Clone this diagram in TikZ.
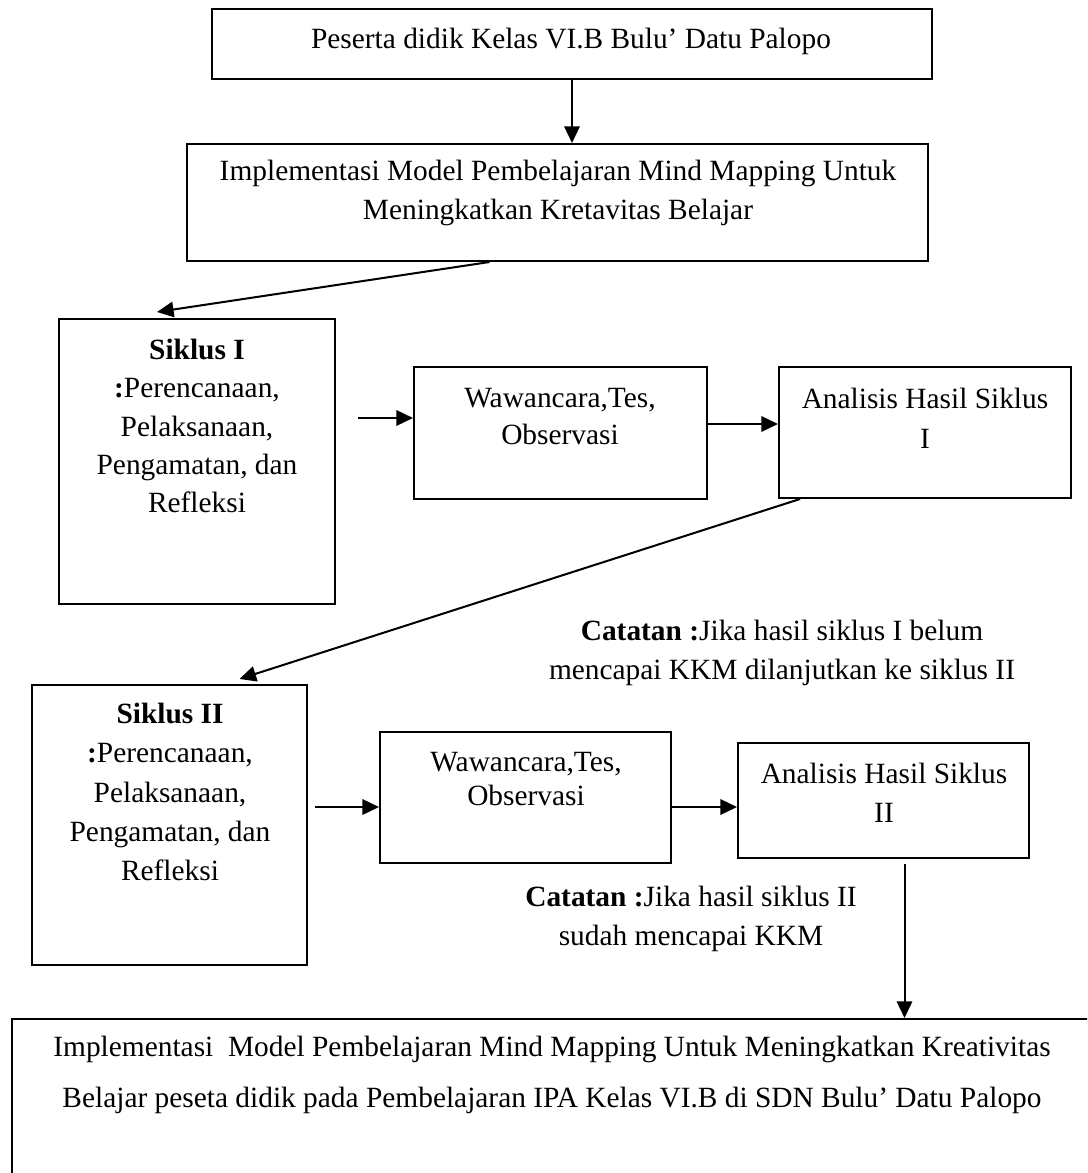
\documentclass[tikz,border=0pt]{standalone}
\usepackage{fontspec}
\setmainfont{Liberation Serif}
\usetikzlibrary{arrows.meta,positioning,calc,fit}

\begin{document}
\begin{tikzpicture}[
    x=0.422pt, y=-0.422pt,
    box/.style={rectangle, draw, line width=0.85pt, inner sep=0pt},
    txt/.style={align=center, inner sep=0pt, font=\fontsize{12.4}{16.3}\selectfont},
    note/.style={align=center, inner sep=0pt, font=\fontsize{12.4}{16.7}\selectfont},
    arrow/.style={-{Triangle[length=7pt,width=6.5pt]}, line width=0.85pt}
]
    \path[use as bounding box, clip] (0,0) rectangle (1087,1173);

    % Top boxes
    \node[box, fit={(212,9) (932,79)}] (peserta) {};
    \node[txt] (pesertatxt) at (571,41) {Peserta didik Kelas VI.B Bulu’ Datu Palopo};

    \node[box, fit={(187,144) (928,261)}] (impl) {};
    \node[txt] (impltxt) at (558,193) {Implementasi Model Pembelajaran Mind Mapping Untuk\\Meningkatkan Kretavitas Belajar};

    % Siklus I
    \node[box, fit={(59,319) (335,604)}] (sik1) {};
    \node[txt, font=\fontsize{12.4}{16.2}\selectfont] (sik1txt) at (197,426) {\textbf{Siklus I}\\\textbf{:}Perencanaan,\\Pelaksanaan,\\Pengamatan, dan\\Refleksi};

    \node[box, fit={(414,367) (707,499)}] (waw1) {};
    \node[txt, font=\fontsize{12.4}{15.6}\selectfont] (waw1txt) at (560,417) {Wawancara,Tes,\\Observasi};

    \node[box, fit={(779,367) (1071,498)}] (ana1) {};
    \node[txt, font=\fontsize{12.4}{16.8}\selectfont] (ana1txt) at (925,418) {Analisis Hasil Siklus\\I};

    % Catatan siklus I
    \node[note] (note1) at (782,653) {\textbf{Catatan :}Jika hasil siklus I belum\\mencapai KKM dilanjutkan ke siklus II};

    % Siklus II
    \node[box, fit={(32,685) (307,965)}] (sik2) {};
    \node[txt, font=\fontsize{12.4}{16.5}\selectfont] (sik2txt) at (170,792) {\textbf{Siklus II}\\\textbf{:}Perencanaan,\\Pelaksanaan,\\Pengamatan, dan\\Refleksi};

    \node[box, fit={(380,732) (671,863)}] (waw2) {};
    \node[txt, font=\fontsize{12.4}{14}\selectfont] (waw2txt) at (526,779) {Wawancara,Tes,\\Observasi};

    \node[box, fit={(738,743) (1029,858)}] (ana2) {};
    \node[txt, font=\fontsize{12.4}{16.5}\selectfont] (ana2txt) at (884,793) {Analisis Hasil Siklus\\II};

    % Catatan siklus II
    \node[note] (note2) at (691,919) {\textbf{Catatan :}Jika hasil siklus II\\sudah mencapai KKM};

    % Kesimpulan
    \node[box, fit={(12,1019) (1110,1260)}] (final) {};
    \node[txt, font=\fontsize{12.4}{21.5}\selectfont] (finaltxt) at (552,1075) {Implementasi\ \ Model Pembelajaran Mind Mapping Untuk Meningkatkan Kreativitas\\Belajar peseta didik pada Pembelajaran IPA Kelas VI.B di SDN Bulu’ Datu Palopo};

    % Arrows
    \coordinate (a2out) at ($(ana2.south)+(21,5)$);
    \draw[arrow] (peserta.south) -- (peserta.south |- impl.north);
    \draw[arrow] ($(impl.south)+(-68,0)$) -- ($(sik1.north)+(-40,-6)$);
    \draw[arrow, shorten <=11\pgflinewidth] (sik1.east |- 0,418) -- (waw1.west |- 0,418);
    \draw[arrow] (waw1.east |- 0,424) -- (ana1.west |- 0,424);
    \draw[arrow] ($(ana1.south)+(-125,0)$) -- ($(sik2.north)+(70,-5)$);
    \draw[arrow, shorten <=3pt] (sik2.east |- 0,807) -- (waw2.west |- 0,807);
    \draw[arrow] (waw2.east |- 0,807) -- (ana2.west |- 0,807);
    \draw[arrow] (a2out) -- (a2out |- final.north);
\end{tikzpicture}
\end{document}
